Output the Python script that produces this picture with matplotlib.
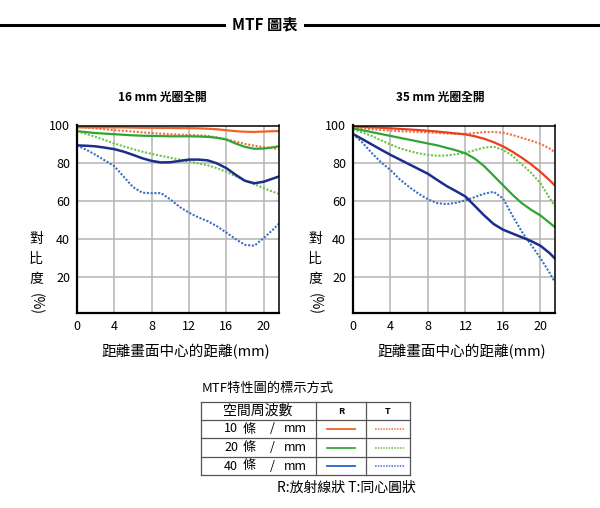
import matplotlib
matplotlib.use('Agg')
import matplotlib.pyplot as plt
from matplotlib.lines import Line2D

plt.rcParams['font.family'] = ['Noto Sans CJK TC', 'DejaVu Sans']

# distance from image centre (mm)
x_16 = [0, 1, 2, 3, 4, 5, 6, 7, 8, 9, 10, 11, 12, 13, 14, 15, 16, 17, 18, 19, 20, 21, 21.6]
x_35 = [0, 1, 2, 3, 4, 5, 6, 7, 8, 9, 10, 11, 12, 13, 14, 15, 16, 17, 18, 19, 20, 21, 21.5]

# 16 mm, wide open (contrast %)
r10_16 = [99, 99, 99, 99, 99, 99, 98.9, 98.8, 98.8, 98.7, 98.7, 98.6, 98.6, 98.5, 98.3, 98, 97.5, 97, 96.7, 96.6, 96.8, 97, 97]
t10_16 = [99.5, 99, 98.5, 98, 97.5, 97.2, 96.8, 96.4, 96, 95.7, 95.4, 95.2, 95, 94.8, 94.5, 93.7, 92.7, 91.5, 90.3, 89.3, 88.6, 88, 87.5]
r20_16 = [97, 96.5, 96, 95.7, 95.4, 95.1, 94.8, 94.6, 94.5, 94.4, 94.3, 94.3, 94.3, 94.2, 94, 93.5, 92.6, 90.5, 88.7, 87.7, 87.8, 88.5, 89]
t20_16 = [97, 95.5, 94, 92.3, 90.5, 89, 87.5, 86.2, 85, 84, 83, 82, 81, 80, 79, 77.5, 75.5, 73.2, 71, 69, 67, 65, 64]
r40_16 = [89.5, 89.3, 89, 88.3, 87.5, 86.2, 84.5, 82.7, 81.3, 80.5, 80.6, 81.3, 82, 82, 81.6, 80, 77.5, 74, 70.8, 69.5, 70.3, 72, 73]
t40_16 = [89.5, 87.2, 84.5, 81.5, 78.5, 73, 67.5, 64.5, 64.3, 64.3, 61, 57, 54, 51.5, 49.5, 46.8, 43.5, 40, 37, 36.5, 40.5, 45, 48]

# 35 mm, wide open (contrast %)
r10_35 = [99.5, 99.3, 99, 98.8, 98.5, 98.2, 97.9, 97.6, 97.2, 96.8, 96.3, 95.8, 95.3, 94.3, 93, 91.2, 89, 86.2, 83, 79.5, 75.5, 71, 68.5]
t10_35 = [99, 98.5, 98, 97.6, 97.3, 97, 96.8, 96.6, 96.4, 96.1, 95.8, 95.6, 95.6, 96, 96.5, 96.6, 96.2, 95, 93.5, 92, 90.3, 87.8, 86]
r20_35 = [98.5, 97.5, 96.5, 95.5, 94.5, 93.5, 92.5, 91.5, 90.5, 89.5, 88.2, 86.9, 85.3, 82.5, 78.5, 73.5, 68.5, 63.5, 59, 55.5, 52.5, 48.5, 46.5]
t20_35 = [98, 96.3, 94.5, 92.2, 90, 88, 86.5, 85.3, 84.5, 84, 84.2, 84.8, 85.6, 87, 88.3, 88.8, 87.2, 84, 79.5, 75, 69.5, 61.5, 57.5]
r40_35 = [95.5, 92.8, 90, 87.2, 84.5, 82, 79.5, 77, 74.5, 71.2, 68, 65.3, 62.5, 57.5, 52.5, 48, 45, 43, 41, 39, 36.5, 32.5, 30]
t40_35 = [95.5, 91, 85.5, 80.5, 76.5, 71.5, 67.5, 64, 61, 59, 58.5, 59.2, 60.5, 62.2, 64, 65, 61.5, 52.5, 44, 37, 30, 22, 17.5]

titles = ['16 mm 光圈全開', '35 mm 光圈全開']
xticks = [0, 4, 8, 12, 16, 20]
yticks = [20, 40, 60, 80, 100]

W, H = 600, 508


def fx(px):
    return px / W


def fy(py):
    return 1 - py / H


fig = plt.figure(figsize=(6, 5.08), dpi=100)

# header
fig.add_artist(Line2D([0, fx(224)], [fy(25), fy(25)], color='black', lw=2.2))
fig.add_artist(Line2D([fx(305), 1], [fy(25), fy(25)], color='black', lw=2.2))
fig.text(fx(265), fy(24), 'MTF 圖表', ha='center', va='center', fontsize=11, fontweight='bold')

panels = [
    dict(left=77, right=279, xs=x_16, xmax=21.65, title=titles[0], tx=162, ylx=36,
         c10='#f06428', c10t='#f07040',
         data=[r10_16, t10_16, r20_16, t20_16, r40_16, t40_16]),
    dict(left=353, right=555, xs=x_35, xmax=21.55, title=titles[1], tx=440, ylx=315,
         c10='#e8401e', c10t='#f07048',
         data=[r10_35, t10_35, r20_35, t20_35, r40_35, t40_35]),
]

top, bottom = 125.5, 313
for p in panels:
    ax = fig.add_axes([fx(p['left']), fy(bottom), fx(p['right'] - p['left']), (bottom - top) / H])
    xs = p['xs']
    r10, t10, r20, t20, r40, t40 = p['data']
    dot = (0, (1, 0.8))
    ax.plot(xs, t10, color=p['c10t'], lw=1.5, ls=dot)
    ax.plot(xs, r10, color=p['c10'], lw=1.6)
    ax.plot(xs, t20, color='#6cc24a', lw=1.5, ls=dot)
    ax.plot(xs, r20, color='#2fa534', lw=1.6)
    ax.plot(xs, t40, color='#3c6fc4', lw=1.5, ls=dot)
    ax.plot(xs, r40, color='#1c2d8a', lw=1.8)

    ax.set_xlim(0, p['xmax'])
    ax.set_ylim(1, 100)
    ax.set_xticks(xticks)
    ax.set_yticks(yticks)
    ax.tick_params(length=0, labelsize=9, pad=5)
    ax.grid(True, color='#b4b4b4', lw=1.1)
    ax.set_axisbelow(True)
    for s in ['left', 'bottom']:
        ax.spines[s].set_linewidth(1.6)
    for s in ['top', 'right']:
        ax.spines[s].set_linewidth(1.1)

    fig.text(fx(p['tx']), fy(97), p['title'], ha='center', va='center', fontsize=8.5, fontweight='bold')
    fig.text(fx((p['left'] + p['right']) / 2 + 8), fy(352), '距離畫面中心的距離(mm)',
             ha='center', va='center', fontsize=10.5)
    for ch, yy in zip(['對', '比', '度'], [239, 259, 279]):
        fig.text(fx(p['ylx']), fy(yy), ch, ha='center', va='center', fontsize=10)
    fig.text(fx(p['ylx']), fy(304), '(%)', ha='center', va='center', fontsize=10, rotation=-90)

# legend table
fig.text(fx(202), fy(388), 'MTF特性圖的標示方式', ha='left', va='center', fontsize=9.5)
tl, tr = 201, 410
rows = [402, 420, 438, 457, 475]
cols = [201, 316, 366, 410]
grey = '#555555'
for yy in rows:
    fig.add_artist(Line2D([fx(tl), fx(tr)], [fy(yy), fy(yy)], color=grey, lw=0.9))
for xx in cols:
    fig.add_artist(Line2D([fx(xx), fx(xx)], [fy(rows[0]), fy(rows[-1])], color=grey, lw=0.9))

fig.text(fx(258), fy(411), '空間周波數', ha='center', va='center', fontsize=10)
fig.text(fx(341), fy(411), 'R', ha='center', va='center', fontsize=6.5, fontweight='bold')
fig.text(fx(388), fy(411), 'T', ha='center', va='center', fontsize=6.5, fontweight='bold')

freqs = ['10', '20', '40']
leg_colors = [('#f06428', '#f07040'), ('#3aaa38', '#6cc24a'), ('#2a62c4', '#3c6fc4')]
for i, (f, (cr, ct)) in enumerate(zip(freqs, leg_colors)):
    yy = (rows[i + 1] + rows[i + 2]) / 2
    fig.text(fx(231), fy(yy), f, ha='center', va='center', fontsize=9)
    fig.text(fx(249), fy(yy), '條', ha='center', va='center', fontsize=9.5)
    fig.text(fx(272), fy(yy), '/', ha='center', va='center', fontsize=9)
    fig.text(fx(295), fy(yy), 'mm', ha='center', va='center', fontsize=9)
    fig.add_artist(Line2D([fx(327), fx(355)], [fy(yy), fy(yy)], color=cr, lw=1.3))
    fig.add_artist(Line2D([fx(375), fx(405)], [fy(yy), fy(yy)], color=ct, lw=1.1, ls=(0, (1, 0.8))))

fig.text(fx(416), fy(488), 'R:放射線狀 T:同心圓狀', ha='right', va='center', fontsize=10)

fig.savefig('out.png', dpi=100)
